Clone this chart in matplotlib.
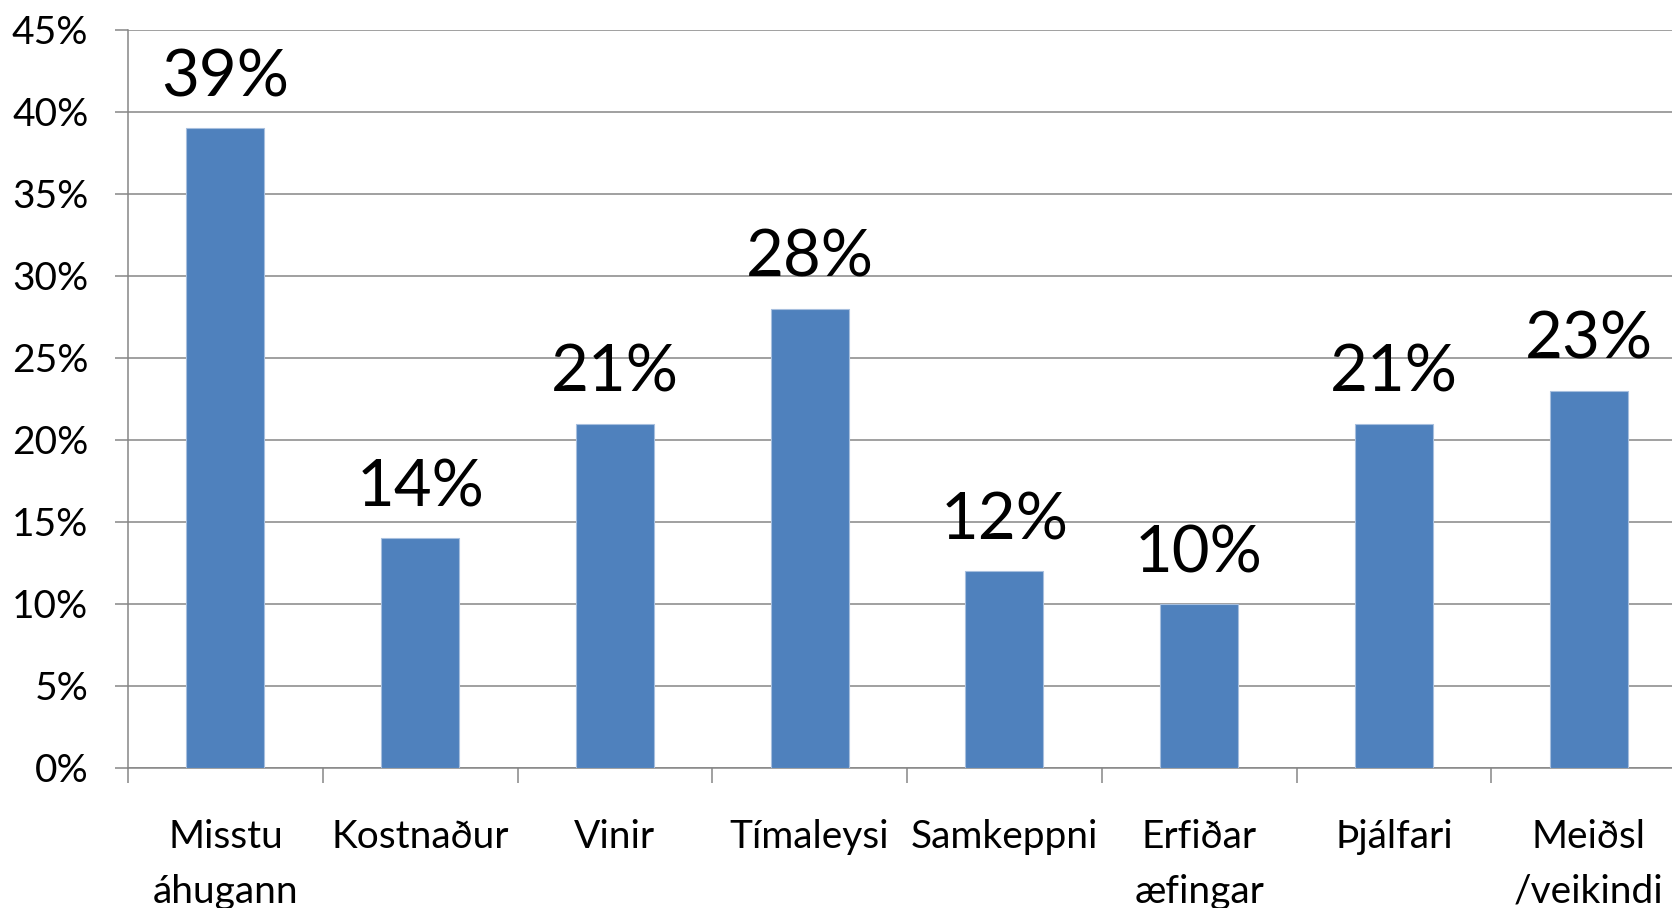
import matplotlib
matplotlib.use("Agg")
import matplotlib.pyplot as plt
import numpy as np

categories = ["Misstu\náhugann", "Kostnaður", "Vinir", "Tímaleysi", "Samkeppni",
              "Erfiðar\næfingar", "Þjálfari", "Meiðsl\n/veikindi"]
values = [39, 14, 21, 28, 12, 10, 21, 23]
yticks = [0, 5, 10, 15, 20, 25, 30, 35, 40, 45]
ytick_labels = [f"{t}%" for t in yticks]

plt.rcParams['font.family'] = ['Lato', 'DejaVu Sans']

W, H = 1672, 908
fig = plt.figure(figsize=(W / 100, H / 100), dpi=100)
ax = fig.add_axes([128 / W, (H - 768) / H, 1558 / W, 738 / H])

grid_col = "#868686"
bar_col = "#4F81BD"

x = np.arange(len(categories))
ax.bar(x, values, width=0.40, color=bar_col, edgecolor="#A7BFDE", linewidth=0.8, zorder=3)

for xi, v in zip(x, values):
    ax.annotate(f"{v}%", xy=(xi, v), xytext=(0, 23), textcoords="offset points",
                ha="center", va="baseline", fontsize=47, color="black", zorder=4)

ax.set_xlim(-0.5, len(categories) - 0.5)
ax.set_ylim(0, 45)

ax.set_yticks(yticks)
ax.set_yticklabels(ytick_labels, fontsize=28)
ax.yaxis.grid(True, color=grid_col, linewidth=1.1, zorder=0)
ax.set_axisbelow(True)

# tick marks at category boundaries, labels at centers
ax.set_xticks(np.arange(len(categories) + 1) - 0.5)
ax.set_xticklabels([])
ax.set_xticks(x, minor=True)
ax.set_xticklabels(categories, minor=True, fontsize=28, linespacing=1.65)
ax.tick_params(axis="x", which="major", length=11, width=1.1, color=grid_col, direction="out")
ax.tick_params(axis="x", which="minor", length=0, pad=36.5)
ax.tick_params(axis="y", length=9.5, width=1.1, color=grid_col, pad=19)

for s in ["top", "right"]:
    ax.spines[s].set_visible(False)
for s in ["left", "bottom"]:
    ax.spines[s].set_color(grid_col)
    ax.spines[s].set_linewidth(1.1)

fig.savefig("out.png", dpi=100)
